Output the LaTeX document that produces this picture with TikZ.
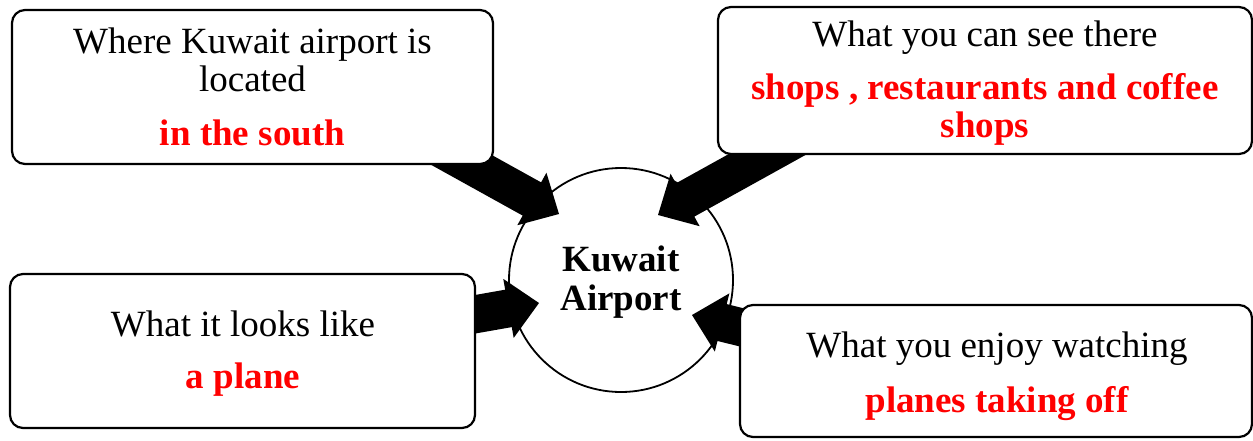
\documentclass[tikz,border=0pt]{standalone}
\usepackage{fontspec}
\setmainfont{Liberation Serif}
\usetikzlibrary{calc}
\tikzset{
  box/.style={draw, line width=1.1pt, rounded corners=6.5pt, fill=white, inner sep=0pt},
  hub/.style={draw, circle, line width=0.9pt, fill=white, minimum size=112pt, inner sep=0pt},
  qtext/.style={anchor=base, inner sep=0pt, font=\fontsize{18.5}{19}\selectfont},
  atext/.style={anchor=base, inner sep=0pt, text=red, font=\fontsize{18.5}{19}\selectfont\bfseries},
  htext/.style={anchor=base, inner sep=0pt, font=\fontsize{18.5}{19}\selectfont\bfseries},
  pics/blockarrow/.style={code={
    \fill (0,0) -- (-31,-30) -- (-31,-19) -- (-#1,-19) -- (-#1,19) -- (-31,19) -- (-31,30) -- cycle;}}
}
\begin{document}
\begin{tikzpicture}[x=0.5pt, y=-0.5pt]
\useasboundingbox (0,0) rectangle (1253,440);
% hub
\node[hub] (k) at (621,280) {};
% arrow tips
\coordinate (t1) at ($(k.center)+(-62,-66)$);
\coordinate (t2) at ($(k.center)+(37,-65)$);
\coordinate (t3) at ($(k.center)+(-82,23)$);
\coordinate (t4) at ($(k.center)+(71,35)$);
\pic[rotate=-29] at (t1) {blockarrow=200};
\pic[rotate=-151] at (t2) {blockarrow=200};
\pic[rotate=10] at (t3) {blockarrow=120};
\pic[rotate=166] at (t4) {blockarrow=120};
% boxes
\node[box, minimum width=240.5pt, minimum height=77pt] (tl) at (252.5,87) {};
\node[box, minimum width=267pt, minimum height=73.5pt] (tr) at (985,80.5) {};
\node[box, minimum width=232.5pt, minimum height=77pt] (bl) at (242.5,351) {};
\node[box, minimum width=256pt, minimum height=66pt] (br) at (996,371) {};
% texts
\node[htext] (k1) at (621,271) {Kuwait};
\node[htext] (k2) at (621,310) {Airport};
\node[qtext] (q1a) at (252.5,53) {Where Kuwait airport is};
\node[qtext] (q1b) at (252.5,91) {located};
\node[atext] (a1) at (252.5,145) {in the south};
\node[qtext] (q2) at (985,46) {What you can see there};
\node[atext] (a2a) at (985,99) {shops , restaurants and coffee};
\node[atext] (a2b) at (985,137) {shops};
\node[qtext] (q3) at (243,336) {What it looks like};
\node[atext] (a3) at (243,388) {a plane};
\node[qtext] (q4) at (997,357) {What you enjoy watching};
\node[atext] (a4) at (997,412) {planes taking off};
\end{tikzpicture}
\end{document}
